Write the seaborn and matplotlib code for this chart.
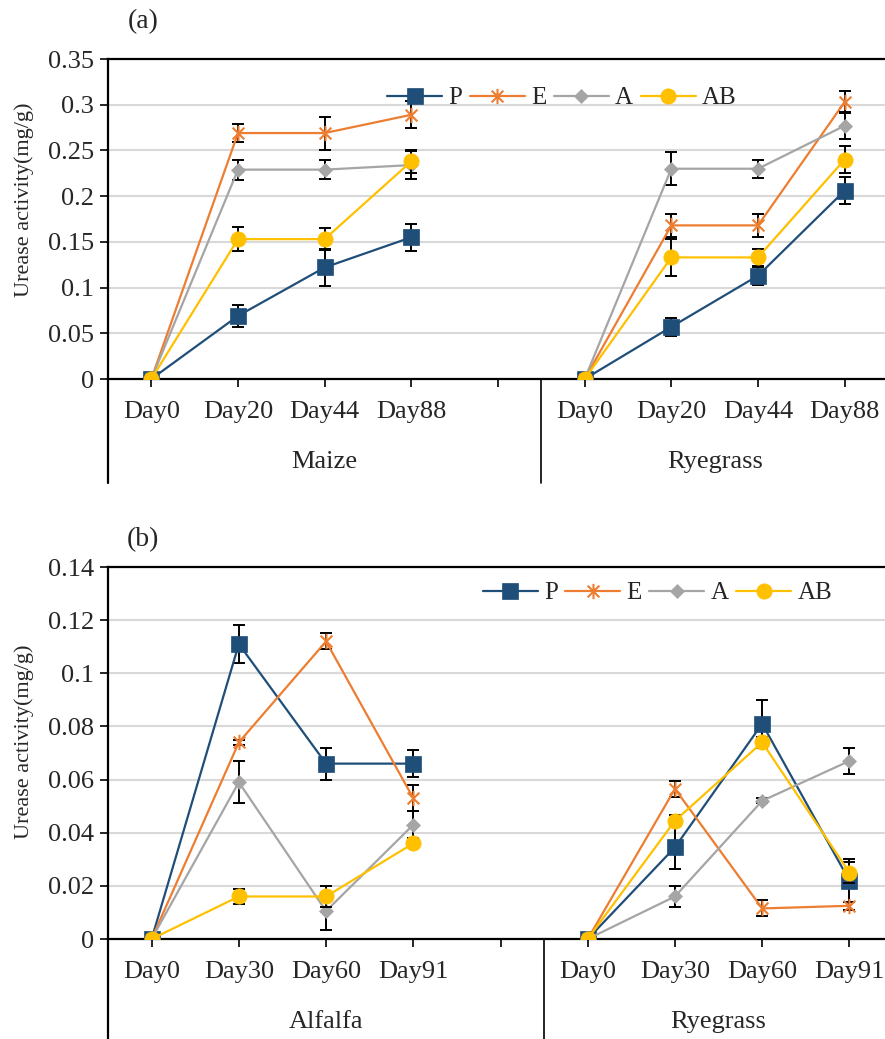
import numpy as np
import pandas as pd
import matplotlib
matplotlib.use("Agg")
import matplotlib.pyplot as plt
import seaborn as sns
from matplotlib.path import Path
from matplotlib.lines import Line2D
import matplotlib.transforms as mtransforms

sns.set_style("white")
plt.rcParams['font.family'] = ['Liberation Serif', 'DejaVu Serif']
plt.rcParams['font.size'] = 18

# ---------------- data ----------------
series = ["P", "E", "A", "AB"]

# Panel (a)
days_a = ["Day0", "Day20", "Day44", "Day88"]
groups_a = ["Maize", "Ryegrass"]
a_maize_P = [0, 0.069, 0.122, 0.155]
a_maize_E = [0, 0.269, 0.269, 0.289]
a_maize_A = [0, 0.229, 0.229, 0.234]
a_maize_AB = [0, 0.153, 0.153, 0.238]
a_maize_P_err = [0, 0.012, 0.020, 0.015]
a_maize_E_err = [0, 0.010, 0.018, 0.015]
a_maize_A_err = [0, 0.011, 0.010, 0.015]
a_maize_AB_err = [0, 0.013, 0.012, 0.013]
a_rye_P = [0, 0.057, 0.113, 0.206]
a_rye_E = [0, 0.168, 0.168, 0.303]
a_rye_A = [0, 0.230, 0.230, 0.277]
a_rye_AB = [0, 0.133, 0.133, 0.240]
a_rye_P_err = [0, 0.010, 0.010, 0.015]
a_rye_E_err = [0, 0.013, 0.013, 0.012]
a_rye_A_err = [0, 0.018, 0.010, 0.015]
a_rye_AB_err = [0, 0.020, 0.009, 0.015]

# Panel (b)
days_b = ["Day0", "Day30", "Day60", "Day91"]
groups_b = ["Alfalfa", "Ryegrass"]
b_alf_P = [0, 0.111, 0.066, 0.066]
b_alf_E = [0, 0.074, 0.112, 0.053]
b_alf_A = [0, 0.059, 0.0105, 0.043]
b_alf_AB = [0, 0.016, 0.016, 0.036]
b_alf_P_err = [0, 0.007, 0.006, 0.005]
b_alf_E_err = [0, 0.001, 0.003, 0.005]
b_alf_A_err = [0, 0.008, 0.007, 0.005]
b_alf_AB_err = [0, 0.003, 0.004, 0.001]
b_rye_P = [0, 0.0345, 0.081, 0.022]
b_rye_E = [0, 0.0565, 0.0115, 0.0125]
b_rye_A = [0, 0.016, 0.052, 0.067]
b_rye_AB = [0, 0.0445, 0.074, 0.025]
b_rye_P_err = [0, 0.008, 0.009, 0.008]
b_rye_E_err = [0, 0.003, 0.003, 0.0015]
b_rye_A_err = [0, 0.004, 0.001, 0.005]
b_rye_AB_err = [0, 0.002, 0.002, 0.004]

yticks_a = [0, 0.05, 0.1, 0.15, 0.2, 0.25, 0.3, 0.35]
yticklabels_a = ["0", "0.05", "0.1", "0.15", "0.2", "0.25", "0.3", "0.35"]
yticks_b = [0, 0.02, 0.04, 0.06, 0.08, 0.1, 0.12, 0.14]
yticklabels_b = ["0", "0.02", "0.04", "0.06", "0.08", "0.1", "0.12", "0.14"]

# ---------------- styles ----------------
colors = {"P": "#1F4E79", "E": "#ED7D31", "A": "#A5A5A5", "AB": "#FFC000"}
star = Path([(-1, -1), (1, 1), (-1, 1), (1, -1), (0, -1.3), (0, 1.3)],
            [Path.MOVETO, Path.LINETO, Path.MOVETO, Path.LINETO, Path.MOVETO, Path.LINETO])
mstyle = {
    "P": dict(marker="s", markersize=11, markerfacecolor=colors["P"], markeredgecolor=colors["P"], markeredgewidth=0.5),
    "E": dict(marker=star, markersize=11, markerfacecolor="none", markeredgecolor=colors["E"], markeredgewidth=1.5),
    "A": dict(marker="D", markersize=7.5, markerfacecolor=colors["A"], markeredgecolor=colors["A"], markeredgewidth=0.5),
    "AB": dict(marker="o", markersize=11, markerfacecolor=colors["AB"], markeredgecolor=colors["AB"], markeredgewidth=0.5),
}

W, H = 885, 1039
fig = plt.figure(figsize=(W / 100, H / 100), dpi=100)
LBL = 19


def draw_panel(ax, days, groups, data, errs, yticks, yticklabels, ymax, label_off, group_off, div_off, leg_xy):
    positions = [list(range(0, 4)), list(range(5, 9))]
    for si, s in enumerate(series):
        for gi in range(2):
            xs = positions[gi]
            vals = data[gi][s]
            ers = errs[gi][s]
            df = pd.DataFrame({"x": xs, "y": vals})
            ax.errorbar(xs, vals, yerr=ers, fmt="none", ecolor="black", elinewidth=1.4,
                        capsize=4, capthick=1.4, zorder=3 + 2 * si)
            sns.lineplot(data=df, x="x", y="y", ax=ax, color=colors[s], linewidth=1.6,
                         estimator=None, sort=False, zorder=4 + 2 * si, **mstyle[s])
    ax.set_xlim(-0.5, 8.5)
    ax.set_ylim(0, ymax)
    ax.set_yticks(yticks)
    ax.set_yticklabels(yticklabels)
    ax.set_xticks(range(9))
    ax.set_xticklabels([""] * 9)
    ax.set_xlabel("")
    ax.set_ylabel("")
    ax.yaxis.grid(True, color="#D9D9D9", linewidth=1.5)
    ax.xaxis.grid(False)
    ax.set_axisbelow(True)
    ax.tick_params(axis="y", direction="out", length=6, width=1.4, pad=4, labelsize=LBL, left=True)
    ax.tick_params(axis="x", direction="out", length=6, width=1.4, bottom=True)
    for sp in ["left", "bottom", "top"]:
        ax.spines[sp].set_visible(True)
        ax.spines[sp].set_color("black")
        ax.spines[sp].set_linewidth(1.6)
    ax.spines["right"].set_visible(False)
    trans = mtransforms.blended_transform_factory(ax.transData, ax.transAxes)
    cats = days + [""] + days
    for i, c in enumerate(cats):
        ax.text(i, label_off, c, transform=trans, ha="center", va="center", fontsize=LBL)
    ax.text(2.0, group_off, groups[0], transform=trans, ha="center", va="center", fontsize=LBL)
    ax.text(6.5, group_off, groups[1], transform=trans, ha="center", va="center", fontsize=LBL)
    ax.plot([4.5, 4.5], [0, div_off], transform=trans, color="black", lw=1.2, clip_on=False)
    ax.plot([-0.5, -0.5], [0, div_off], transform=trans, color="black", lw=1.6, clip_on=False)
    handles = [Line2D([0], [0], color=colors[s], linewidth=1.6, **mstyle[s]) for s in series]
    ax.legend(handles, series, loc="center", bbox_to_anchor=leg_xy, ncol=4, frameon=False,
              handlelength=2.2, handletextpad=0.25, columnspacing=0.3, fontsize=18,
              borderaxespad=0, borderpad=0)


# Panel (a)
ax_a = fig.add_axes([108 / W, 1 - 379 / H, 780 / W, 320 / H])
data_a = [
    {"P": a_maize_P, "E": a_maize_E, "A": a_maize_A, "AB": a_maize_AB},
    {"P": a_rye_P, "E": a_rye_E, "A": a_rye_A, "AB": a_rye_AB},
]
errs_a = [
    {"P": a_maize_P_err, "E": a_maize_E_err, "A": a_maize_A_err, "AB": a_maize_AB_err},
    {"P": a_rye_P_err, "E": a_rye_E_err, "A": a_rye_A_err, "AB": a_rye_AB_err},
]
draw_panel(ax_a, days_a, groups_a, data_a, errs_a, yticks_a, yticklabels_a, 0.35,
           -33 / 320, -83 / 320, -104 / 320, (0.582, 0.878))

# Panel (b)
ax_b = fig.add_axes([108 / W, 1 - 939 / H, 785 / W, 372 / H])
data_b = [
    {"P": b_alf_P, "E": b_alf_E, "A": b_alf_A, "AB": b_alf_AB},
    {"P": b_rye_P, "E": b_rye_E, "A": b_rye_A, "AB": b_rye_AB},
]
errs_b = [
    {"P": b_alf_P_err, "E": b_alf_E_err, "A": b_alf_A_err, "AB": b_alf_AB_err},
    {"P": b_rye_P_err, "E": b_rye_E_err, "A": b_rye_A_err, "AB": b_rye_AB_err},
]
draw_panel(ax_b, days_b, groups_b, data_b, errs_b, yticks_b, yticklabels_b, 0.14,
           -33 / 372, -83 / 372, -105 / 372, (0.70, 0.93))

fig.text(143 / W, 1 - 22 / H, "(a)", ha="center", va="center", fontsize=20)
fig.text(143 / W, 1 - 540 / H, "(b)", ha="center", va="center", fontsize=20)
fig.text(24 / W, 1 - 200 / H, "Urease activity(mg/g)", rotation=90, ha="center", va="center", fontsize=16)
fig.text(24 / W, 1 - 742 / H, "Urease activity(mg/g)", rotation=90, ha="center", va="center", fontsize=16)

fig.savefig("out.png", dpi=100)
